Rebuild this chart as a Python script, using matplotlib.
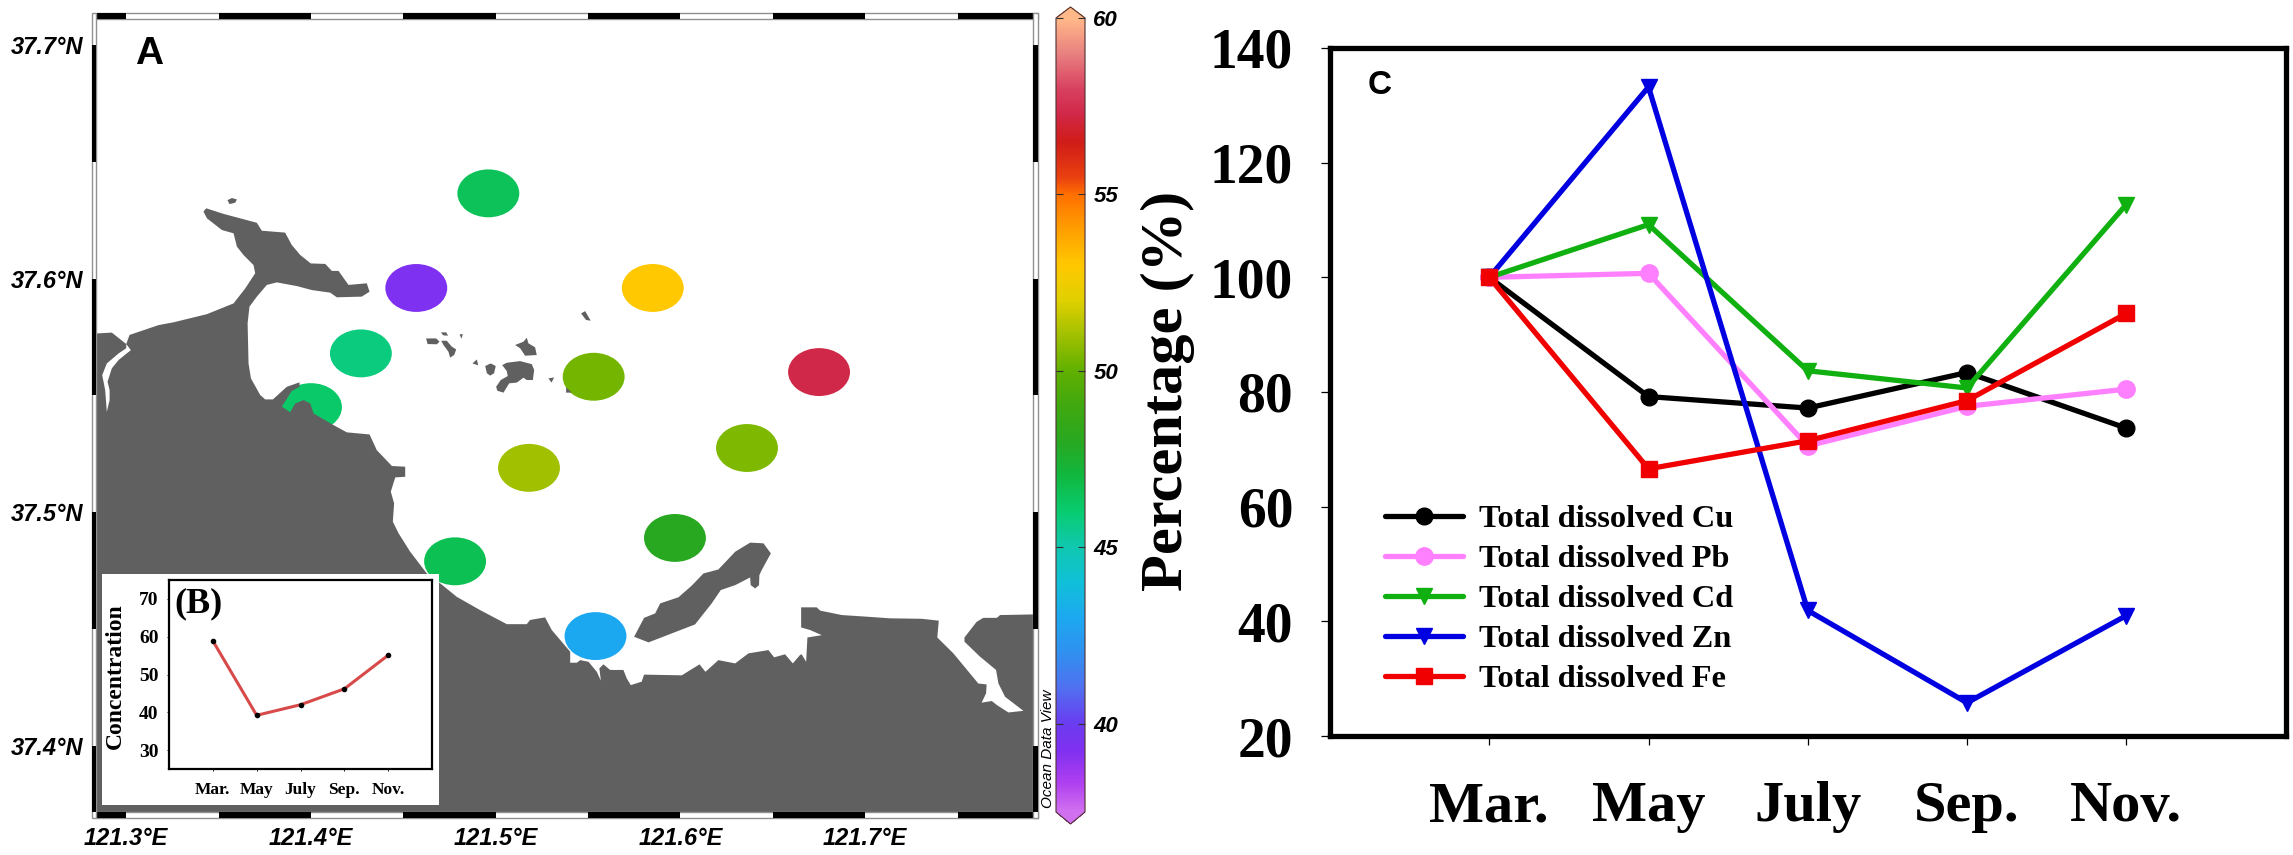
import matplotlib
matplotlib.use("Agg")
import matplotlib.pyplot as plt
from matplotlib.colors import LinearSegmentedColormap, Normalize
from matplotlib.cm import ScalarMappable
from matplotlib.patches import Ellipse, Polygon, Rectangle

W, H = 2293, 855

# ---------- data ----------
months = ["Mar.", "May", "July", "Sep.", "Nov."]
inset_values = [58.9, 39.2, 42.0, 46.2, 55.1]
cu = [100, 79.2, 77.2, 83.4, 73.7]
pb = [100, 100.7, 70.6, 77.5, 80.5]
cd = [100, 109.2, 83.7, 80.7, 112.7]
zn = [100, 133.2, 41.9, 25.8, 41.0]
fe = [100, 66.6, 71.5, 78.5, 93.7]

station_lon = [121.496, 121.457, 121.585, 121.427, 121.553, 121.675,
               121.400, 121.518, 121.636, 121.597, 121.478, 121.554]
station_lat = [37.6365, 37.596, 37.596, 37.568, 37.558, 37.560,
               37.545, 37.519, 37.5275, 37.489, 37.479, 37.447]
station_val = [46.5, 39.3, 53.0, 45.8, 50.3, 57.3,
               46.2, 51.0, 50.5, 48.0, 46.6, 43.0]

lon_ticks = [121.3, 121.4, 121.5, 121.6, 121.7]
lat_ticks = [37.4, 37.5, 37.6, 37.7]
cbar_ticks = [40, 45, 50, 55, 60]

cmap_vals = [37.5, 38.3, 39.2, 40, 41, 42, 43, 44, 45, 46, 47, 48, 49, 50,
             51, 52, 53, 54, 55, 55.5, 56.5, 57.3, 58, 59, 60]
cmap_cols = ["#d070f0", "#b040f0", "#8030f0", "#6a3cf0", "#5070f0", "#3090f0",
             "#1ca8f0", "#10c0d8", "#10c8b0", "#08cc70", "#10b840", "#28a820",
             "#40a810", "#60b000", "#a0c000", "#e0d000", "#ffc800", "#ffa000",
             "#ff7000", "#e84010", "#d01c18", "#d02848", "#d84060", "#e88080",
             "#ffb888"]

main_land = [
    (121.27, 37.5759), (121.2922, 37.5769), (121.3000, 37.5720), (121.3018, 37.5759), (121.3175, 37.5801),
    (121.3256, 37.5813), (121.3437, 37.5848), (121.3581, 37.5894), (121.3644, 37.5958), (121.3698, 37.6023),
    (121.3689, 37.6058), (121.3635, 37.6101), (121.3599, 37.6137), (121.3581, 37.6194), (121.3518, 37.6208),
    (121.3437, 37.6258), (121.3418, 37.6287), (121.3433, 37.6301), (121.3527, 37.6277), (121.3707, 37.6239),
    (121.3734, 37.6205), (121.3860, 37.6197), (121.3896, 37.6144), (121.3942, 37.6101), (121.3999, 37.6065),
    (121.4077, 37.6063), (121.4113, 37.6033), (121.4149, 37.6033), (121.4203, 37.5973), (121.4302, 37.5980),
    (121.4317, 37.5944), (121.4275, 37.5923), (121.4140, 37.5920), (121.4104, 37.5940), (121.4005, 37.5951),
    (121.3924, 37.5968), (121.3815, 37.5984), (121.3761, 37.5973), (121.3707, 37.5923), (121.3667, 37.5880),
    (121.3657, 37.5809), (121.3662, 37.5637), (121.3675, 37.5573), (121.3725, 37.5502), (121.3752, 37.5483),
    (121.3794, 37.5483), (121.3869, 37.5537), (121.3938, 37.5556), (121.3938, 37.5537), (121.3896, 37.5519),
    (121.3842, 37.5452), (121.3887, 37.5428), (121.3915, 37.5466), (121.3960, 37.5480), (121.3996, 37.5466),
    (121.4014, 37.5423), (121.4122, 37.5373), (121.4194, 37.5342), (121.4317, 37.5333), (121.4356, 37.5266),
    (121.4438, 37.5198), (121.4510, 37.5195), (121.4510, 37.5152), (121.4456, 37.5149), (121.4432, 37.5088),
    (121.4450, 37.5038), (121.4443, 37.4960), (121.4474, 37.4910), (121.4537, 37.4831), (121.4627, 37.4738),
    (121.4699, 37.4696), (121.4789, 37.4638), (121.4916, 37.4581), (121.5060, 37.4521), (121.5168, 37.4521),
    (121.5186, 37.4539), (121.5267, 37.4550), (121.5303, 37.4496), (121.5403, 37.4403), (121.5403, 37.4356),
    (121.5439, 37.4356), (121.5457, 37.4367), (121.5502, 37.4360), (121.5547, 37.4317), (121.5569, 37.4279),
    (121.5561, 37.4332), (121.5583, 37.4349), (121.5619, 37.4325), (121.5691, 37.4325), (121.5709, 37.4289),
    (121.5731, 37.4260), (121.5790, 37.4275), (121.5803, 37.4305), (121.6007, 37.4302), (121.6103, 37.4349),
    (121.6135, 37.4317), (121.6205, 37.4367), (121.6296, 37.4353), (121.6368, 37.4396), (121.6476, 37.4410),
    (121.6507, 37.4379), (121.6566, 37.4392), (121.6608, 37.4353), (121.6647, 37.4389), (121.6656, 37.4392),
    (121.6680, 37.4360), (121.6687, 37.4464), (121.6765, 37.4474), (121.6701, 37.4496), (121.6653, 37.4507),
    (121.6653, 37.4593), (121.6737, 37.4593), (121.6756, 37.4579), (121.6873, 37.4560), (121.7008, 37.4553),
    (121.7134, 37.4546), (121.7306, 37.4544), (121.7398, 37.4536), (121.7390, 37.4464), (121.7477, 37.4396),
    (121.7612, 37.4267), (121.7657, 37.4263), (121.7654, 37.4225), (121.7630, 37.4185), (121.7685, 37.4192),
    (121.7712, 37.4175), (121.7775, 37.4143), (121.7856, 37.4150), (121.7757, 37.4210), (121.7721, 37.4267),
    (121.7708, 37.4325), (121.7621, 37.4382), (121.7537, 37.4446), (121.7537, 37.4464), (121.7603, 37.4531),
    (121.7639, 37.4548), (121.7712, 37.4548), (121.7730, 37.4560), (121.80, 37.4564), (121.80, 37.36),
    (121.27, 37.36),
]
river = [
    (121.3000, 37.5720), (121.3025, 37.5694), (121.2959, 37.5652), (121.2922, 37.5616), (121.2899, 37.5559),
    (121.2910, 37.5523), (121.2910, 37.5480), (121.2895, 37.5430), (121.2886, 37.5523), (121.2870, 37.5587),
    (121.2895, 37.5637), (121.2959, 37.5680), (121.3000, 37.5702),
]
islands = [
    [(121.5749, 37.4467), (121.5803, 37.4548), (121.5863, 37.4567), (121.5890, 37.4610), (121.5989, 37.4636),
     (121.6061, 37.4686), (121.6124, 37.4738), (121.6205, 37.4755), (121.6296, 37.4831), (121.6377, 37.4870),
     (121.6449, 37.4867), (121.6489, 37.4824), (121.6440, 37.4753), (121.6427, 37.4731), (121.6425, 37.4688),
     (121.6404, 37.4674), (121.6380, 37.4688), (121.6377, 37.4721), (121.6296, 37.4688), (121.6218, 37.4667),
     (121.6169, 37.4610), (121.6079, 37.4520), (121.5827, 37.4443)],
    [(121.3548, 37.6336), (121.3572, 37.6345), (121.3599, 37.6339), (121.3590, 37.6325), (121.3559, 37.6319)],
    [(121.4623, 37.5744), (121.4678, 37.5744), (121.4696, 37.5730), (121.4681, 37.5719), (121.4631, 37.5720)],
    [(121.4703, 37.5770), (121.4732, 37.5770), (121.4742, 37.5756), (121.4717, 37.5757)],
    [(121.4705, 37.5734), (121.4735, 37.5734), (121.4762, 37.5709), (121.4786, 37.5697), (121.4775, 37.5673),
     (121.4753, 37.5662), (121.4744, 37.5687), (121.4717, 37.5716)],
    [(121.4804, 37.5761), (121.4822, 37.5763), (121.4815, 37.5743)],
    [(121.4874, 37.5637), (121.4898, 37.5654), (121.4905, 37.5629)],
    [(121.4943, 37.5626), (121.4973, 37.5637), (121.5000, 37.5626), (121.4991, 37.5595), (121.4970, 37.5585),
     (121.4952, 37.5595)],
    [(121.5035, 37.5630), (121.5060, 37.5640), (121.5132, 37.5647), (121.5195, 37.5634), (121.5208, 37.5609),
     (121.5201, 37.5566), (121.5168, 37.5566), (121.5150, 37.5576), (121.5114, 37.5555), (121.5073, 37.5552),
     (121.5042, 37.5512), (121.5009, 37.5520), (121.5002, 37.5537), (121.5027, 37.5566), (121.5065, 37.5583),
     (121.5060, 37.5604)],
    [(121.5105, 37.5716), (121.5150, 37.5730), (121.5168, 37.5747), (121.5177, 37.5723), (121.5213, 37.5706),
     (121.5222, 37.5673), (121.5159, 37.5670), (121.5132, 37.5702)],
    [(121.5285, 37.5573), (121.5316, 37.5577), (121.5302, 37.5555)],
    [(121.5462, 37.5851), (121.5484, 37.5861), (121.5514, 37.5820), (121.5489, 37.5823)],
    [(121.5381, 37.5535), (121.5412, 37.5512), (121.5381, 37.5512)],
]

# ---------- helpers ----------
def box(l, t, r, b):
    return [l / W, 1 - b / H, (r - l) / W, (b - t) / H]

SANS = "Liberation Sans"
SERIF = "Liberation Serif"
LAND = "#606060"

fig = plt.figure(figsize=(W / 100, H / 100), dpi=100, facecolor="white")

# ---------- panel A ----------
ax = fig.add_axes(box(96.3, 19.3, 1033, 812))
lon_min, lon_max = 121.2838, 121.7908
lat_min, lat_max = 37.3717, 37.711
ax.set_xlim(lon_min, lon_max)
ax.set_ylim(lat_min, lat_max)
for s in ax.spines.values():
    s.set_visible(False)

cmap = LinearSegmentedColormap.from_list(
    "odv", [((v - 37.5) / 22.5, c) for v, c in zip(cmap_vals, cmap_cols)], N=512)
cmap.set_under("#d070f0")
cmap.set_over("#ffb888")
norm = Normalize(37.5, 60)

for lo, la, v in zip(station_lon, station_lat, station_val):
    ax.add_patch(Ellipse((lo, la), 0.0335, 0.0205, fc=cmap(norm(v)), ec="none", zorder=1))
ax.add_patch(Polygon(main_land, closed=True, fc=LAND, ec="none", zorder=2))
ax.add_patch(Polygon(river, closed=True, fc="white", ec="none", zorder=2.1))
for isl in islands:
    ax.add_patch(Polygon(isl, closed=True, fc=LAND, ec="none", zorder=2))

ax.set_xticks(lon_ticks)
ax.set_xticklabels([f"{v:.1f}°E" for v in lon_ticks], fontfamily=SANS, fontweight="bold",
                   fontstyle="italic", fontsize=17)
ax.set_yticks(lat_ticks)
ax.set_yticklabels([f"{v:.1f}°N" for v in lat_ticks], fontfamily=SANS, fontweight="bold",
                   fontstyle="italic", fontsize=17)
ax.tick_params(axis="x", length=0, pad=11)
ax.tick_params(axis="y", length=0, pad=9)

# checkered frame
dlon = 5.0 / 1848 * 1.1
dlat = 6.0 / 2336
edge = "#909090"
fx = dict(clip_on=False, zorder=5)
for (y0, y1) in [(lat_max, lat_max + dlat), (lat_min - dlat, lat_min)]:
    ax.add_patch(Rectangle((lon_min, y0), lon_max + dlon - lon_min, y1 - y0, fc="white", ec=edge, lw=1, **fx))
    for a, b in [(lon_min, 121.30), (121.35, 121.40), (121.45, 121.50),
                 (121.55, 121.60), (121.65, 121.70), (121.75, lon_max)]:
        ax.add_patch(Rectangle((a, y0), b - a, y1 - y0, fc="black", ec="none", **fx))
for (x0, x1) in [(lon_min - dlon * 0.8, lon_min), (lon_max, lon_max + dlon)]:
    ax.add_patch(Rectangle((x0, lat_min - dlat), x1 - x0, lat_max + 2 * dlat - lat_min, fc="white", ec=edge, lw=1, **fx))
    for a, b in [(37.65, 37.70), (37.55, 37.60), (37.45, 37.50), (lat_min, 37.40)]:
        ax.add_patch(Rectangle((x0, a), x1 - x0, b - a, fc="black", ec="none", **fx))

ax.text((135 - 96.3) / 936.7, 1 - (64 - 19.3) / 792.7, "A", transform=ax.transAxes,
        fontfamily=SANS, fontweight="bold", fontsize=28, va="baseline", ha="left")

# colour bar (the box holds the bar and both end triangles)
cax = fig.add_axes(box(1056, 7, 1085, 824))
cb = fig.colorbar(ScalarMappable(norm=norm, cmap=cmap), cax=cax, extend="both",
                  extendfrac=(12 / 794, 11 / 794), ticks=cbar_ticks)
cb.outline.set_edgecolor("#503030")
cb.outline.set_linewidth(0.8)
cax.tick_params(axis="y", which="both", direction="in", left=True, right=True,
                length=4.7, width=0.8, color="#303030", pad=6)
cax.tick_params(axis="y", which="minor", left=False, right=False)
for lab in cax.get_yticklabels():
    lab.set_fontfamily(SANS)
    lab.set_fontweight("bold")
    lab.set_fontstyle("italic")
    lab.set_fontsize(16)

fig.text(1048 / W, 1 - 808 / H, "Ocean Data View", rotation=90, ha="center", va="bottom",
         fontfamily=SANS, fontstyle="italic", fontsize=11)

# ---------- inset B ----------
bg = fig.add_axes(box(101.7, 573.5, 439, 805), facecolor="white", zorder=3)
bg.set_xticks([])
bg.set_yticks([])
for s in bg.spines.values():
    s.set_visible(False)

ins = fig.add_axes(box(169, 580, 432, 769), zorder=4)
xpos = list(range(len(months)))
ins.plot(xpos, inset_values, color="#d84a4a", lw=2.2, zorder=2)
ins.plot(xpos, inset_values, ls="none", marker="o", ms=3, color="black", zorder=3)
ins.set_xlim(-1, 5)
ins.set_ylim(25, 75)
ins.set_xticks(xpos)
ins.set_xticklabels(months, fontfamily=SERIF, fontweight="bold", fontsize=12.5)
ins.set_yticks([30, 40, 50, 60, 70])
ins.set_yticklabels(["30", "40", "50", "60", "70"], fontfamily=SERIF, fontweight="bold", fontsize=14)
ins.tick_params(axis="x", length=1.5, width=0.6, pad=8)
ins.tick_params(axis="y", length=1.5, width=0.6, pad=6)
for s in ins.spines.values():
    s.set_linewidth(1.6)
fig.text(115 / W, 1 - 676 / H, "Concentration", rotation=90, ha="center", va="center",
         fontfamily=SERIF, fontweight="bold", fontsize=17, zorder=6)
ins.text((174 - 169) / 263, 1 - (604 - 580) / 189, "(B)", transform=ins.transAxes, ha="left", va="center",
         fontfamily=SERIF, fontweight="bold", fontsize=26)

# ---------- panel C ----------
axc = fig.add_axes(box(1330, 48, 2285.5, 736))
series = [
    ("Total dissolved Cu", cu, "black", "o", 12),
    ("Total dissolved Pb", pb, "#ff80ff", "o", 12.5),
    ("Total dissolved Cd", cd, "#10b010", "v", 12),
    ("Total dissolved Zn", zn, "#0000e0", "v", 12),
    ("Total dissolved Fe", fe, "#f00000", "s", 11.5),
]
for name, vals, col, mk, ms in series:
    axc.plot(xpos, vals, color=col, lw=3.8, marker=mk, ms=ms, mec=col, label=name,
             solid_capstyle="round")
axc.set_xlim(-1, 5)
axc.set_ylim(20, 140)
axc.set_xticks(xpos)
axc.set_xticklabels(months, fontfamily=SERIF, fontweight="bold", fontsize=42)
axc.set_yticks(range(20, 141, 20))
axc.set_yticklabels([str(v) for v in range(20, 141, 20)], fontfamily=SERIF, fontweight="bold", fontsize=40)
axc.tick_params(axis="x", length=6.5, width=0.9, pad=26)
axc.tick_params(axis="y", length=6.5, width=0.9, pad=20)
for s in axc.spines.values():
    s.set_linewidth(3.8)
fig.text(1168 / W, 1 - 391 / H, "Percentage (%)", rotation=90, ha="center", va="center",
         fontfamily=SERIF, fontweight="bold", fontsize=43.5)
axc.text((1368 - 1330) / 955.5, 1 - (94 - 48) / 688, "C", transform=axc.transAxes,
         fontfamily=SANS, fontweight="bold", fontsize=24, va="baseline", ha="left")
leg = axc.legend(loc="lower left", bbox_to_anchor=((1385 - 1330) / 955.5, (736 - 694) / 688),
                 frameon=False, borderaxespad=0, borderpad=0, numpoints=1,
                 handlelength=2.4, handletextpad=0.52, labelspacing=0.32,
                 prop=dict(family=SERIF, weight="bold", size=23.3))

fig.savefig("out.png", dpi=100, facecolor="white")
